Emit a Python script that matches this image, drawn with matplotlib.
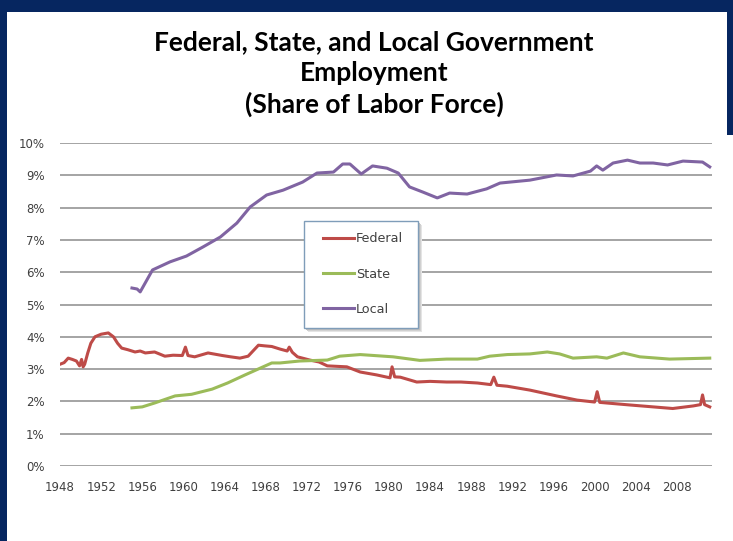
import matplotlib.pyplot as plt
from matplotlib.patches import Rectangle

# values (share of labor force, %)
fed_years = [1948.0, 1948.4, 1948.8, 1949.2, 1949.6, 1949.9, 1950.1, 1950.25, 1950.4, 1950.7,
             1951.0, 1951.4, 1952.0, 1952.7, 1953.2, 1953.6, 1954.0, 1954.6, 1955.3, 1955.8,
             1956.3, 1957.2, 1958.2, 1959.0, 1959.9, 1960.2, 1960.45, 1961.1, 1962.4, 1963.8,
             1964.6, 1965.5, 1966.3, 1967.3, 1967.9, 1968.6, 1969.4, 1970.1, 1970.3, 1970.6,
             1971.1, 1972.3, 1973.2, 1974.0, 1975.9, 1977.2, 1978.8, 1980.1, 1980.3, 1980.55,
             1981.1, 1982.7, 1984.0, 1985.6, 1987.0, 1988.6, 1989.9, 1990.2, 1990.5, 1991.5,
             1993.7, 1996.3, 1998.3, 2000.0, 2000.25, 2000.5, 2001.2, 2003.4, 2005.7, 2007.6,
             2009.6, 2010.3, 2010.5, 2010.7, 2011.2]
fed_vals = [3.15, 3.2, 3.34, 3.3, 3.25, 3.1, 3.3, 3.07, 3.15, 3.5,
            3.8, 4.0, 4.08, 4.12, 4.0, 3.8, 3.65, 3.6, 3.53, 3.56,
            3.5, 3.53, 3.4, 3.43, 3.42, 3.68, 3.42, 3.38, 3.5, 3.42,
            3.38, 3.34, 3.4, 3.74, 3.72, 3.7, 3.62, 3.56, 3.68, 3.52,
            3.38, 3.28, 3.22, 3.1, 3.07, 2.91, 2.82, 2.73, 3.07, 2.76,
            2.75, 2.6, 2.62, 2.6, 2.6, 2.57, 2.52, 2.75, 2.5, 2.47,
            2.35, 2.17, 2.04, 1.98, 2.3, 1.97, 1.95, 1.89, 1.83, 1.78,
            1.86, 1.9, 2.2, 1.9, 1.83]

state_years = [1955.0, 1956.0, 1957.2, 1959.2, 1960.8, 1962.8, 1964.3, 1966.0, 1968.6, 1969.4,
               1971.3, 1974.0, 1975.2, 1977.2, 1980.4, 1983.0, 1985.6, 1988.6, 1989.8, 1991.5,
               1993.7, 1995.4, 1996.6, 1997.9, 2000.2, 2001.2, 2002.8, 2004.4, 2007.3, 2011.2]
state_vals = [1.8, 1.83, 1.95, 2.17, 2.22, 2.38, 2.57, 2.82, 3.19, 3.19,
              3.25, 3.28, 3.4, 3.45, 3.38, 3.27, 3.31, 3.31, 3.4, 3.45,
              3.47, 3.53, 3.47, 3.34, 3.38, 3.34, 3.5, 3.38, 3.31, 3.34]

local_years = [1955.0, 1955.5, 1955.8, 1957.0, 1958.7, 1960.3, 1961.9, 1963.6, 1965.2, 1966.5,
               1968.1, 1969.7, 1971.6, 1973.0, 1974.6, 1975.5, 1976.2, 1977.3, 1978.4, 1979.8,
               1980.9, 1982.0, 1983.3, 1984.7, 1985.9, 1987.6, 1989.5, 1990.8, 1993.7, 1996.3,
               1997.9, 1999.6, 2000.2, 2000.8, 2001.8, 2003.2, 2004.4, 2005.7, 2007.1, 2008.6,
               2010.5, 2011.2]
local_vals = [5.51, 5.48, 5.39, 6.07, 6.32, 6.5, 6.78, 7.09, 7.52, 8.02,
              8.39, 8.54, 8.79, 9.07, 9.1, 9.35, 9.35, 9.04, 9.29, 9.22,
              9.07, 8.64, 8.48, 8.3, 8.45, 8.42, 8.58, 8.76, 8.85, 9.01,
              8.98, 9.13, 9.29, 9.16, 9.38, 9.47, 9.38, 9.38, 9.32, 9.44,
              9.41, 9.26]

year_ticks = list(range(1948, 2009, 4))
pct_ticks = list(range(0, 11))

NAVY = '#062660'
W, H = 733, 541
fig = plt.figure(figsize=(W / 100, H / 100), dpi=100)
fig.patch.set_facecolor(NAVY)
# white slide panel inside the navy frame
fig.patches.append(Rectangle((7 / W, 0), 1 - 7 / W, 1 - 12 / H, transform=fig.transFigure,
                             facecolor='white', edgecolor='none', zorder=-2))
fig.patches.append(Rectangle((727 / W, 1 - 135 / H), 10 / W, 135 / H, transform=fig.transFigure,
                             facecolor=NAVY, edgecolor='none', zorder=-1))

fig.text(374 / W, 1 - 74 / H,
         'Federal, State, and Local Government\nEmployment\n(Share of Labor Force)',
         ha='center', va='center', fontsize=19, fontweight='bold', family='Lato',
         linespacing=1.33, color='black')

ax = fig.add_axes([60 / W, 1 - 466 / H, 652 / W, 323 / H])
ax.set_facecolor('none')
ax.plot(fed_years, fed_vals, color='#be4b48', lw=2.2, label='Federal')
ax.plot(state_years, state_vals, color='#9bbb59', lw=2.2, label='State')
ax.plot(local_years, local_vals, color='#8064a2', lw=2.2, label='Local')

ax.set_xlim(1948, 2011.42)
ax.set_ylim(0, 10)
ax.set_xticks(year_ticks)
ax.set_xticklabels([str(y) for y in year_ticks])
ax.set_yticks(pct_ticks)
ax.set_yticklabels([f'{p}%' for p in pct_ticks])
ax.grid(axis='y', color='#8c8c8c', lw=1.1)
ax.set_axisbelow(True)
for s in ax.spines.values():
    s.set_visible(False)
ax.tick_params(axis='both', length=0, labelsize=8.5, labelcolor='#404040')
ax.tick_params(axis='y', pad=11)
ax.tick_params(axis='x', pad=11)

# legend box with a soft shadow, drawn by hand so it can be wider than its contents
bx0, bx1, by0, by1 = 304, 418, 221, 328
for i, c in enumerate(['#e4e4e4', '#d0d0d0', '#bdbdbd']):
    off = 4 - i
    fig.patches.append(Rectangle(((bx0 + off) / W, 1 - (by1 + off) / H), (bx1 - bx0) / W,
                                 (by1 - by0) / H, transform=fig.transFigure,
                                 facecolor=c, edgecolor='none', zorder=3))
fig.patches.append(Rectangle((bx0 / W, 1 - by1 / H), (bx1 - bx0) / W, (by1 - by0) / H,
                             transform=fig.transFigure, facecolor='white',
                             edgecolor='#7f9db9', lw=1.0, zorder=4))

handles, labels = ax.get_legend_handles_labels()
leg = fig.legend(handles, labels, loc='center', bbox_to_anchor=(363 / W, 1 - 274 / H),
                 frameon=False, handlelength=2.4, handletextpad=0.15,
                 labelspacing=1.75, fontsize=9.2, borderaxespad=0, borderpad=0)
leg.set_zorder(5)
for t in leg.get_texts():
    t.set_color('#404040')
for l in leg.get_lines():
    l.set_linewidth(2.2)

fig.savefig('out.png', dpi=100, facecolor=fig.get_facecolor())
